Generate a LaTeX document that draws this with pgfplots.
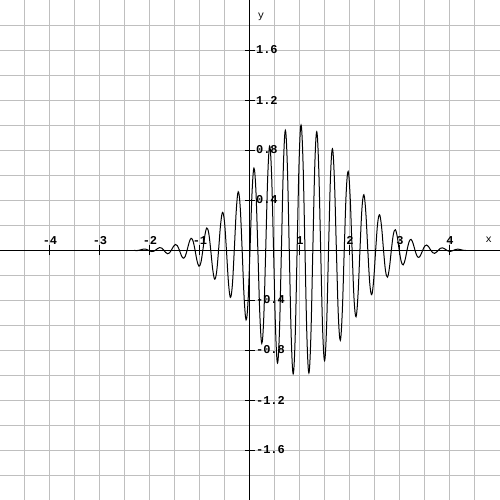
\documentclass[border=0pt]{standalone}
\usepackage{fontspec}
\setmonofont{Liberation Mono}
\usepackage{pgfplots}
\pgfplotsset{compat=1.18}
\begin{document}
\begin{tikzpicture}
\begin{axis}[name=ax, width=250pt, height=250pt, scale only axis,
  xmin=-5, xmax=5, ymin=-2, ymax=2,
  axis lines=middle, axis line style={-, black, line width=0.5pt},
  xtick={-4,-3,-2,-1,1,2,3,4},
  ytick={-1.6,-1.2,-0.8,-0.4,0.4,0.8,1.2,1.6},
  minor xtick={-4.5,-4,...,4.5},
  minor ytick={-1.8,-1.6,-1.4,-1.2,-1,-0.8,-0.6,-0.4,-0.2,0.2,0.4,0.6,0.8,1,1.2,1.4,1.6,1.8},
  grid=both,
  major grid style={draw=black!25, line width=0.5pt},
  minor grid style={draw=black!25, line width=0.5pt},
  tick align=center, major tick length=5pt, minor tick length=0pt,
  tick style={black, line width=0.5pt},
  /pgf/number format/assume math mode=true,
  ticklabel style={font=\ttfamily\bfseries\fontsize{6}{7}\selectfont},
  xticklabel style={anchor=base, yshift=5.5pt},
  yticklabel style={anchor=west, xshift=2pt},
  yticklabel={\pgfmathprintnumber[fixed,fixed zerofill,precision=1]{\tick}},
  xlabel={x}, ylabel={y},
  xlabel style={at={(axis cs:4.774,0.064)}, anchor=base, font=\ttfamily\fontsize{5.2}{6}\selectfont},
  ylabel style={at={(axis cs:0.22,1.852)}, anchor=base, rotate=0, font=\ttfamily\fontsize{5.2}{6}\selectfont},
  clip=false,
]
\addplot[black, line width=0.5pt, smooth, tension=0.6] coordinates {
(-2.3169,-0.0029) (-2.2777,-0.0047) (-2.2384,-0.0037) (-2.1991,0) (-2.1599,0.0048) (-2.1206,0.0077) (-2.0813,0.0061)
(-2.0420,0) (-2.0028,-0.0078) (-1.9635,-0.0124) (-1.9242,-0.0098) (-1.8850,0) (-1.8457,0.0123) (-1.8064,0.0195)
(-1.7671,0.0154) (-1.7279,0) (-1.6886,-0.0190) (-1.6493,-0.0299) (-1.6101,-0.0235) (-1.5708,0) (-1.5315,0.0287)
(-1.4923,0.0448) (-1.4530,0.0349) (-1.4137,0) (-1.3744,-0.0422) (-1.3352,-0.0655) (-1.2959,-0.0507) (-1.2566,0)
(-1.2174,0.0605) (-1.1781,0.0933) (-1.1388,0.0718) (-1.0996,0) (-1.0603,-0.0847) (-1.0210,-0.1297) (-0.9817,-0.0993)
(-0.9425,0) (-0.9032,0.1156) (-0.8639,0.1760) (-0.8247,0.1338) (-0.7854,0) (-0.7461,-0.1539) (-0.7069,-0.2330)
(-0.6676,-0.1761) (-0.6283,0) (-0.5890,0.2001) (-0.5498,0.3009) (-0.5105,0.2260) (-0.4712,0) (-0.4320,-0.2536)
(-0.3927,-0.3792) (-0.3534,-0.2829) (-0.3142,0) (-0.2749,0.3137) (-0.2356,0.4661) (-0.1963,0.3457) (-0.1571,0)
(-0.1178,-0.3786) (-0.0785,-0.5590) (-0.0393,-0.4121) (0,0) (0.0393,0.4457) (0.0785,0.6540) (0.1178,0.4792)
(0.1571,0) (0.1963,-0.5119) (0.2356,-0.7467) (0.2749,-0.5437) (0.3142,0) (0.3534,0.5738) (0.3927,0.8316)
(0.4320,0.6018) (0.4712,0) (0.5105,-0.6273) (0.5498,-0.9036) (0.5890,-0.6498) (0.6283,0) (0.6676,0.6691)
(0.7069,0.9579) (0.7461,0.6847) (0.7854,0) (0.8247,-0.6963) (0.8639,-0.9908) (0.9032,-0.7038) (0.9425,0)
(0.9817,0.7070) (1.0210,0.9998) (1.0603,0.7058) (1.0996,0) (1.1388,-0.7003) (1.1781,-0.9843) (1.2174,-0.6906)
(1.2566,0) (1.2959,0.6768) (1.3352,0.9454) (1.3744,0.6592) (1.4137,0) (1.4530,-0.6382) (1.4923,-0.8859)
(1.5315,-0.6140) (1.5708,0) (1.6101,0.5870) (1.6493,0.8099) (1.6886,0.5578) (1.7279,0) (1.7671,-0.5269)
(1.8064,-0.7224) (1.8457,-0.4945) (1.8850,0) (1.9242,0.4613) (1.9635,0.6287) (2.0028,0.4277) (2.0420,0)
(2.0813,-0.3941) (2.1206,-0.5337) (2.1599,-0.3608) (2.1991,0) (2.2384,0.3284) (2.2777,0.4421) (2.3169,0.2971)
(2.3562,0) (2.3955,-0.2671) (2.4347,-0.3573) (2.4740,-0.2386) (2.5133,0) (2.5525,0.2119) (2.5918,0.2817)
(2.6311,0.1870) (2.6704,0) (2.7096,-0.1640) (2.7489,-0.2167) (2.7882,-0.1429) (2.8274,0) (2.8667,0.1238)
(2.9060,0.1626) (2.9452,0.1066) (2.9845,0) (3.0238,-0.0912) (3.0631,-0.1190) (3.1023,-0.0776) (3.1416,0)
(3.1809,0.0656) (3.2201,0.0851) (3.2594,0.0551) (3.2987,0) (3.3380,-0.0460) (3.3772,-0.0593) (3.4165,-0.0381)
(3.4558,0) (3.4950,0.0315) (3.5343,0.0403) (3.5736,0.0258) (3.6128,0) (3.6521,-0.0210) (3.6914,-0.0267)
(3.7306,-0.0170) (3.7699,0) (3.8092,0.0137) (3.8485,0.0173) (3.8877,0.0109) (3.9270,0) (3.9663,-0.0087)
(4.0055,-0.0109) (4.0448,-0.0069) (4.0841,0) (4.1233,0.0054) (4.1626,0.0067) (4.2019,0.0042) (4.2412,0)
(4.2804,-0.0033) (4.3197,-0.0040)
};
\end{axis}
\pgfresetboundingbox
\path[use as bounding box] (ax.south west) rectangle (ax.north east);
\end{tikzpicture}
\end{document}
